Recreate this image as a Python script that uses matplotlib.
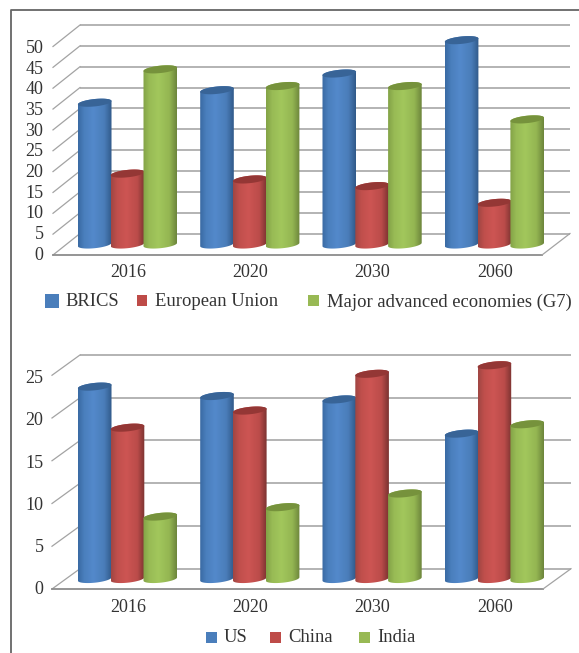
import numpy as np
import matplotlib
matplotlib.use('Agg')
import matplotlib.pyplot as plt
from matplotlib.lines import Line2D
from matplotlib.patches import PathPatch, Rectangle
from matplotlib.path import Path

W, H = 579, 653

years = ['2016', '2020', '2030', '2060']

brics = [34, 37, 41, 49]
eu = [17, 15.6, 14, 10]
g7 = [42, 38, 38, 30]

us = [22.5, 21.4, 21, 17]
china = [17.7, 19.7, 24, 25]
india = [7.3, 8.4, 10, 18.1]

top_ticks = [0, 5, 10, 15, 20, 25, 30, 35, 40, 45, 50]
bottom_ticks = [0, 5, 10, 15, 20, 25]

# edge-to-edge shading across a cylinder, plus the colour of its cap
blue = (['#3a6aa3', '#4a7fbd', '#5389cb', '#4a7db9', '#315a8a'], '#386497')
red = (['#a04643', '#c04f4c', '#cd5553', '#bb4c4a', '#7c3331'], '#943735')
green = (['#83a347', '#98bb55', '#a2c75c', '#94b652', '#6d863c'], '#76923c')
shade_pos = [0, 0.18, 0.45, 0.78, 1]

plt.rcParams['font.family'] = ['Liberation Serif', 'DejaVu Serif']
text_col = '#333333'
grid_col = '#a3a3a3'

fig = plt.figure(figsize=(W / 100, H / 100), dpi=100)

X0 = 127.5     # pixel centre of the first group
XSTEP = 122.3  # pixels between groups
BAR = 32.8     # pixels between bars in a group


def to_rgb(c):
    return np.array(matplotlib.colors.to_rgb(c))


def cylinder(ax, cx, value, style, sx, sy, z):
    stops, cap = style
    a = 16.8 / sx
    b = 3.7 / sy
    tilt = 0.1 * sx / sy
    t = np.linspace(0, 2 * np.pi, 81)
    ex = a * np.cos(t)
    ey = tilt * a * np.cos(t) + b * np.sin(t)

    # outline: lower half of the base, then up and over the top
    low = t[40:]
    bx = cx + a * np.cos(low)
    by = tilt * a * np.cos(low) + b * np.sin(low)
    high = t[:41]
    tx = cx + a * np.cos(high)
    ty = value + tilt * a * np.cos(high) + b * np.sin(high)
    body = Path(np.column_stack([np.r_[bx, tx], np.r_[by, ty]]))
    patch = PathPatch(body, fc='none', ec='none', zorder=z)
    ax.add_patch(patch)

    cols = np.array([to_rgb(c) for c in stops])
    u = np.linspace(0, 1, 64)
    grad = np.stack([np.interp(u, shade_pos, cols[:, i]) for i in range(3)], axis=-1)
    img = ax.imshow(grad[None, :, :], extent=(cx - a, cx + a, -20, value + 20),
                    aspect='auto', interpolation='bilinear', zorder=z)
    img.set_clip_path(patch)

    ax.fill(cx + ex, value + ey, color=cap, lw=0, zorder=z + 0.5)


def panel(box, base, sy, floor_front, floor_back, ticks, series, label_y, xr, tick_shift):
    # box is left, top, right, bottom in pixels
    l, t, r, b = box
    ax = fig.add_axes([l / W, 1 - b / H, (r - l) / W, (b - t) / H])
    ax.axis('off')

    def px(x):
        return (x - X0) / XSTEP

    def val(y):
        return (base - y) / sy

    front = val(floor_front)
    back = val(floor_back)
    x_fl, x_bl, x_fr, x_br = [px(v) for v in xr]

    for v in ticks:
        ax.plot([x_bl, x_br], [back + v, back + v], color=grid_col, lw=1.15, zorder=1,
                solid_capstyle='butt')
        ax.plot([x_fl, x_bl], [front + v, back + v], color=grid_col, lw=0.9, zorder=1)
        # tick labels sit slightly closer together than the gridlines
        ax.text(px(43.5), val(floor_front + tick_shift) + v * 0.99, str(v), ha='right',
                va='center', fontsize=13, color=text_col)
    ax.plot([x_fl, x_fr], [front, front], color='#8c8c8c', lw=1.3, zorder=1)
    ax.plot([x_fr, x_br], [front, back], color=grid_col, lw=0.9, zorder=1)

    z = 3
    for i, year in enumerate(years):
        for k, (values, style) in enumerate(series):
            cylinder(ax, i + (k - 1) * BAR / XSTEP, values[i], style, XSTEP, sy, z)
            z += 1
        ax.text(i + 0.5 / XSTEP, val(label_y), year, ha='center', va='center',
                fontsize=13, color=text_col)

    ax.set_xlim(px(l), px(r))
    ax.set_ylim(val(b), val(t))
    return ax


panel((12, 12, 578, 285), 244.5, 4.17, 255, 233.5, top_ticks,
      [(brics, blue), (eu, red), (g7, green)], 272, (53, 80, 542, 570), 0)
panel((12, 340, 578, 620), 579, 8.55, 589, 568.7, bottom_ticks,
      [(us, blue), (china, red), (india, green)], 607, (52, 80, 543, 571), 1)


def legend_item(x0, y0, x1, y1, col, label, tx, ty):
    fig.add_artist(Rectangle((x0 / W, 1 - y1 / H), (x1 - x0) / W, (y1 - y0) / H,
                             transform=fig.transFigure, fc=col, ec='none'))
    fig.text(tx / W, 1 - ty / H, label, ha='left', va='center', fontsize=13.4, color=text_col)


legend_item(45, 294, 59, 308, '#4a7ebb', 'BRICS', 65, 302)
legend_item(137, 295, 147, 306, '#be4b48', 'European Union', 155, 302)
legend_item(308, 295, 319, 306, '#98b954', 'Major advanced economies (G7)', 327, 302)

legend_item(206, 632, 217, 643, '#4a7ebb', 'US', 224, 637)
legend_item(270, 632, 281, 643, '#be4b48', 'China', 288, 637)
legend_item(359, 632, 370, 643, '#98b954', 'India', 377, 637)

# page rule along the top and down the left side
fig.add_artist(Line2D([1, 11 / W, 11 / W], [1 - 10 / H, 1 - 10 / H, 0],
                      transform=fig.transFigure, color='#666666', lw=1.3))

fig.savefig('out.png', dpi=100)
